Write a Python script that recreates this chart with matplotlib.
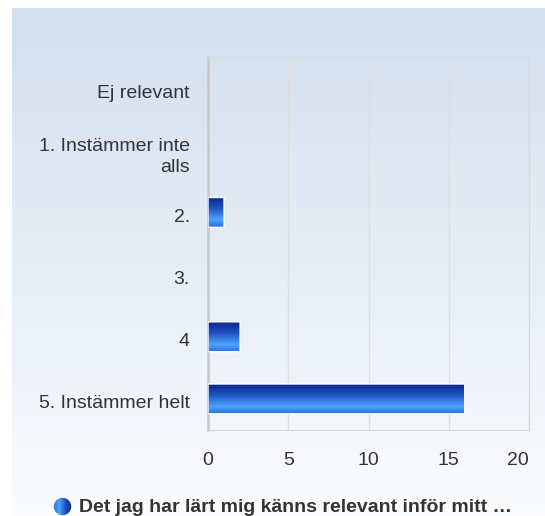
import numpy as np
import matplotlib

matplotlib.use("Agg")
import matplotlib.pyplot as plt
import matplotlib.transforms as mtransforms
from matplotlib.colors import LinearSegmentedColormap
from matplotlib.patches import FancyBboxPatch, Circle

plt.rcParams["font.family"] = ["Liberation Sans", "DejaVu Sans"]

categories = [
    "Ej relevant",
    "1. Instämmer inte\nalls",
    "2.",
    "3.",
    "4",
    "5. Instämmer helt",
]
values = [0, 0, 1, 0, 2, 16]
x_ticks = [0, 5, 10, 15, 20]
series_name = "Det jag har lärt mig känns relevant inför mitt …"

W, H = 545, 516
fig = plt.figure(figsize=(W / 100, H / 100), dpi=100)
fig.patch.set_facecolor("white")

# background panel with soft blue gradient
bg_ax = fig.add_axes([12 / W, 0, 1 - 12 / W, 1 - 8 / H])
bg_ax.set_axis_off()
bg_cmap = LinearSegmentedColormap.from_list("bg", ["#d3dfee", "#e6edf6", "#fbfcfe"])
bg_ax.imshow(np.linspace(0, 1, 256).reshape(-1, 1), aspect="auto", cmap=bg_cmap,
             extent=[0, 1, 0, 1])

left, right, top, bottom = 208, 529, 57, 430
ax = fig.add_axes([left / W, 1 - bottom / H, (right - left) / W, (bottom - top) / H])
ax.patch.set_alpha(0)
ax.set_xticks(x_ticks)
ax.set_yticks(range(len(categories)))
ax.set_yticklabels(categories, linespacing=1.3)
ax.tick_params(length=0, labelsize=14, colors="#333333")
ax.tick_params(axis="x", pad=16)
ax.tick_params(axis="y", pad=13)
shift = mtransforms.ScaledTranslation(0, -3 / 100, fig.dpi_scale_trans)
for lab in ax.get_yticklabels():
    lab.set_horizontalalignment("right")
    lab.set_transform(lab.get_transform() + shift)
ax.get_xticklabels()[-1].set_horizontalalignment("right")
ax.grid(axis="x", color="#dedede", linewidth=1)
ax.set_axisbelow(True)
for side in ["top", "right", "bottom"]:
    ax.spines[side].set_color("#d9d9d9")
ax.spines["left"].set_color("#c8c8c8")
ax.spines["left"].set_linewidth(1.8)

bar_cmap = LinearSegmentedColormap.from_list(
    "bar", [(0, "#0b2a88"), (0.35, "#1d4fc0"), (0.75, "#4ea3ff"), (1, "#2a6fd6")]
)
grad = np.linspace(0, 1, 128).reshape(-1, 1)
bar_h = 0.48
for i, v in enumerate(values):
    if v <= 0:
        continue
    y0, y1 = i - bar_h / 2, i + bar_h / 2
    im = ax.imshow(grad, aspect="auto", cmap=bar_cmap, extent=[0, v, y1, y0],
                   zorder=3, interpolation="bilinear")
    clip = FancyBboxPatch((0, y0), v, bar_h, boxstyle="round,pad=0,rounding_size=0.06",
                          mutation_aspect=1 / 20 * 6, transform=ax.transData,
                          facecolor="none", edgecolor="white", linewidth=1, zorder=4)
    ax.add_patch(clip)
    im.set_clip_path(clip)
ax.set_xlim(0, 20)
ax.set_ylim(len(categories) - 0.5, -0.5)

# legend
leg_ax = fig.add_axes([53 / W, 1 - 516 / H, 19 / W, 19 / H])
leg_ax.set_axis_off()
leg_ax.set_xlim(0, 1)
leg_ax.set_ylim(0, 1)
circ = Circle((0.5, 0.5), 0.46, transform=leg_ax.transData, facecolor="none",
              edgecolor="none")
leg_ax.add_patch(circ)
leg_cmap = LinearSegmentedColormap.from_list("leg", ["#2a6fd6", "#4ea3ff", "#1d4fc0", "#0b2a88"])
lim = leg_ax.imshow(np.linspace(0, 1, 64).reshape(1, -1), aspect="auto", cmap=leg_cmap,
                    extent=[0, 1, 0, 1])
lim.set_clip_path(circ)
fig.text(79 / W, 1 - 507 / H, series_name, fontsize=14, fontweight="bold",
         color="#333333", ha="left", va="center")

fig.savefig("out.png", dpi=100)
